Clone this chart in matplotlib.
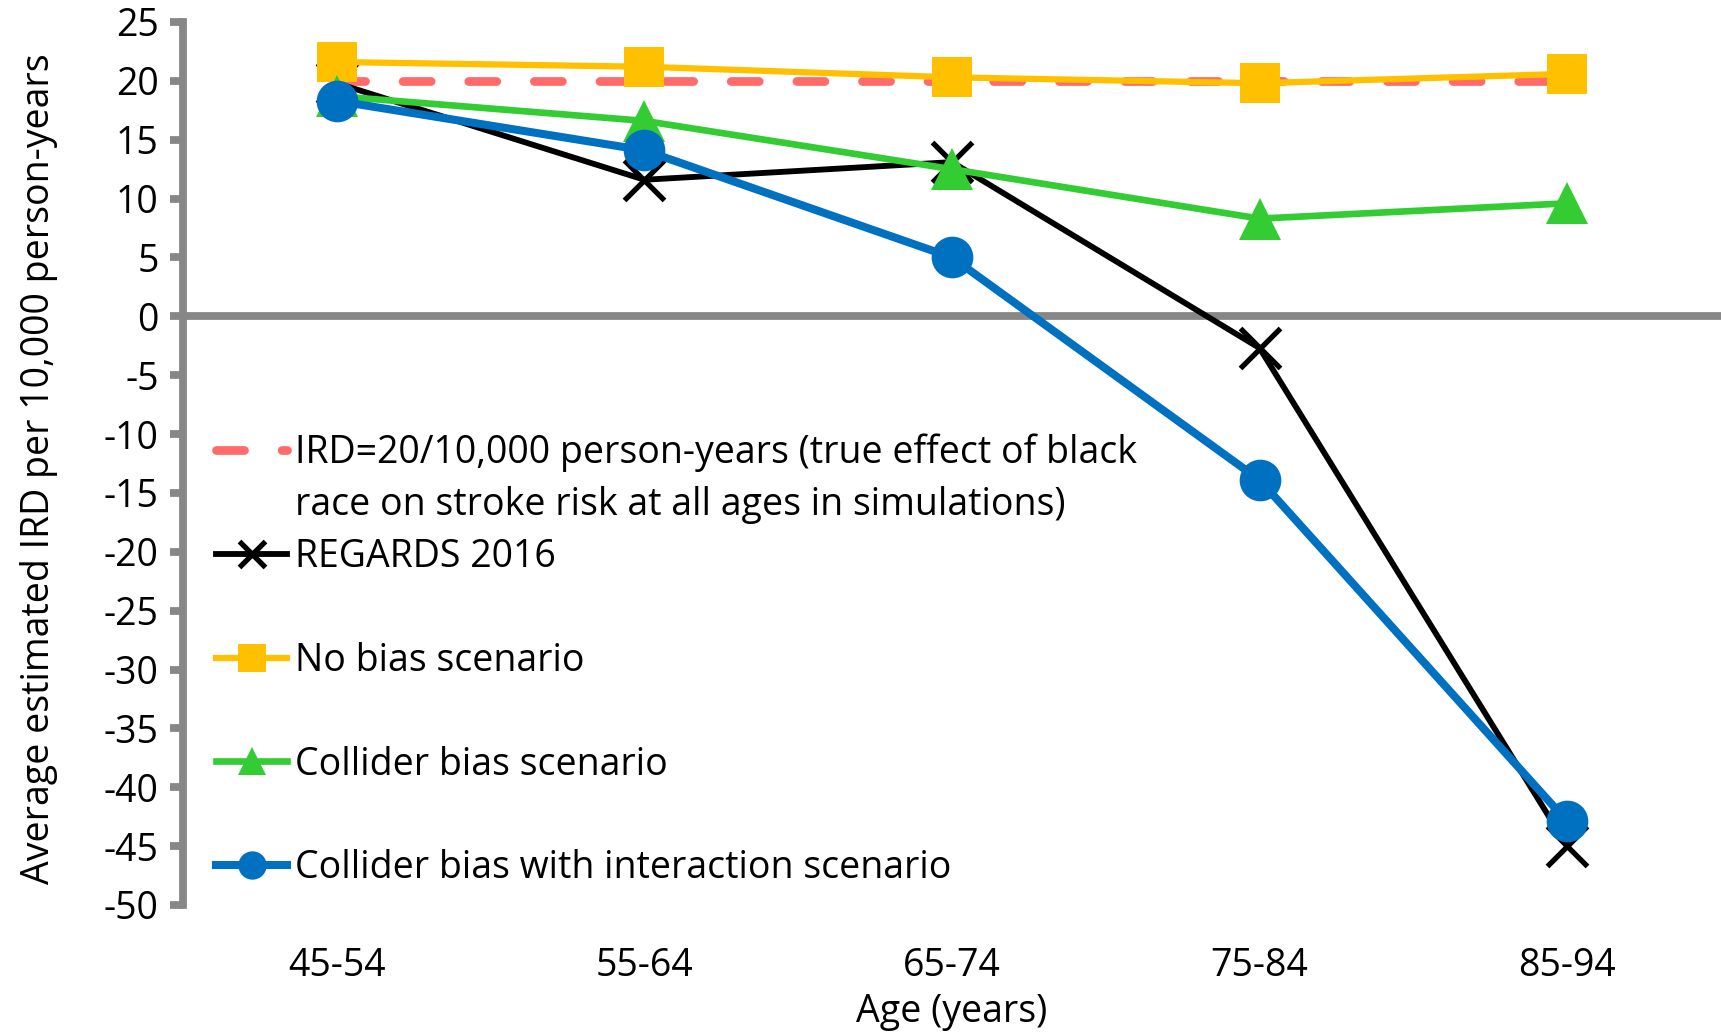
import matplotlib
matplotlib.use("Agg")
import matplotlib.pyplot as plt
from matplotlib.lines import Line2D

# Age groups and average estimated IRD (per 10,000 person-years)
age_groups = ["45-54", "55-64", "65-74", "75-84", "85-94"]
true_ird = [20, 20, 20, 20, 20]
regards_2016 = [19.8, 11.6, 13.1, -2.7, -45.0]
no_bias = [21.6, 21.2, 20.3, 19.8, 20.6]
collider_bias = [18.7, 16.6, 12.5, 8.3, 9.6]
collider_interaction = [18.3, 14.1, 5.0, -13.9, -42.9]

y_ticks = list(range(-50, 30, 5))

plt.rcParams['font.family'] = ['Open Sans', 'DejaVu Sans']
plt.rcParams['axes.unicode_minus'] = False
FS = 27
AXIS_GRAY = '#878787'
AXIS_LW = 5.6

W, H = 1721, 1034
fig = plt.figure(figsize=(W / 100, H / 100), dpi=100)
ax = fig.add_axes([183 / W, 1 - 905 / H, 1 - 183 / W, (905 - 22) / H])
x = list(range(len(age_groups)))

h_true, = ax.plot(x, true_ird, color='#FF6B6B', lw=6.3, dashes=(3.2, 4.3),
                  dash_capstyle='round', zorder=2)
h_reg, = ax.plot(x, regards_2016, color='black', lw=4.2, marker='x', ms=28.5,
                 mew=3.8, zorder=3)
h_nob, = ax.plot(x, no_bias, color='#FFC000', lw=4.5, marker='s', ms=29,
                 mew=0, zorder=4)
h_col, = ax.plot(x, collider_bias, color='#33CC33', lw=4.8, marker='^', ms=30,
                 mew=0, zorder=5)
h_int, = ax.plot(x, collider_interaction, color='#0070C0', lw=5.8, marker='o',
                 ms=30, mew=0, zorder=6)

# zero reference line acting as the category axis
ax.axhline(0, color=AXIS_GRAY, lw=AXIS_LW, zorder=1)

ax.set_xlim(-0.5, 4.5)
ax.set_ylim(-50, 25)
ax.set_yticks(y_ticks)
ax.set_xticks(x, age_groups)

for side in ('top', 'right', 'bottom'):
    ax.spines[side].set_visible(False)
ax.spines['left'].set_color(AXIS_GRAY)
ax.spines['left'].set_linewidth(AXIS_LW)

ax.tick_params(axis='y', direction='out', length=9.5, width=AXIS_LW,
               color=AXIS_GRAY, pad=8, labelsize=FS)
ax.tick_params(axis='x', length=0, pad=30, labelsize=FS)

ax.set_xlabel('Age (years)', fontsize=FS)
ax.xaxis.set_label_coords(0.5, -0.1)
ax.set_ylabel('Average estimated IRD per 10,000 person-years', fontsize=FS)
ax.yaxis.set_label_coords(-0.081, 0.494)


def spacer():
    return Line2D([], [], linestyle='none')


handles = [h_true, spacer(), h_reg, spacer(), h_nob, spacer(), h_col,
           spacer(), h_int]
labels = ["IRD=20/10,000 person-years (true effect of black",
          "race on stroke risk at all ages in simulations)",
          "REGARDS 2016", " ",
          "No bias scenario", " ",
          "Collider bias scenario", " ",
          "Collider bias with interaction scenario"]
ax.legend(handles, labels, loc='lower left', bbox_to_anchor=(0.0215, 0.020),
          frameon=False, fontsize=FS, handlelength=1.9, handletextpad=0.2,
          labelspacing=0.37, borderpad=0, borderaxespad=0, markerscale=0.68)

fig.savefig('out.png', dpi=100)
